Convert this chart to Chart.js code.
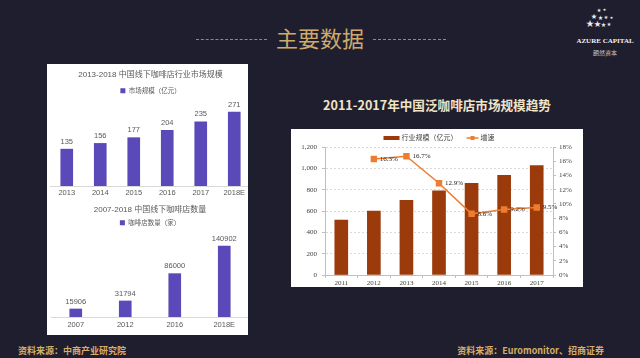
<!DOCTYPE html>
<html><head><meta charset="utf-8">
<script src="https://cdn.jsdelivr.net/npm/chart.js@4/dist/chart.umd.min.js"></script>
<style>
html,body{margin:0;padding:0;}
body{width:640px;height:358px;background:#1f1e2f;position:relative;overflow:hidden;font-family:'Noto Sans CJK SC',sans-serif;}
.abs{position:absolute;}
#hdr{left:0;width:640px;top:22px;text-align:center;font-size:22px;color:#cdaa6c;line-height:30px;}
.dots{position:absolute;top:39px;height:0;border-top:1px dashed #8a8894;}
.star{position:absolute;color:#e9e9ee;line-height:1;}
#logo1{left:570px;width:70px;top:37px;text-align:center;font-family:'Liberation Serif',serif;font-size:7px;font-weight:bold;color:#f2f2f2;}
#logo2{left:570px;width:70px;top:48px;text-align:center;font-size:6px;color:#c9c9d0;}
#leftPanel{left:47px;top:64px;width:201px;height:271px;background:#fff;overflow:hidden;}
#rightPanel{left:291px;top:129px;width:292px;height:158px;background:#fff;}
#rtitle{left:291px;width:292px;top:95px;text-align:center;font-size:12.6px;font-weight:bold;color:#f1e4c6;line-height:20px;}
.foot{position:absolute;top:344px;font-size:9px;font-weight:bold;color:#d6ae68;line-height:13px;}
canvas{position:absolute;}
</style></head>
<body>
<div class="dots" style="left:196px;width:71px;"></div>
<div class="dots" style="left:373px;width:73px;"></div>
<div id="hdr" class="abs">主要数据</div>

<span class="star" style="left:586px;top:19px;font-size:8px;">★</span>
<span class="star" style="left:594px;top:20px;font-size:7px;">★</span>
<span class="star" style="left:601px;top:21px;font-size:5px;">★</span>
<span class="star" style="left:607px;top:22px;font-size:4px;">★</span>
<span class="star" style="left:591px;top:13px;font-size:6px;">★</span>
<span class="star" style="left:598px;top:14px;font-size:5px;">★</span>
<span class="star" style="left:604px;top:15px;font-size:4px;">★</span>
<span class="star" style="left:597px;top:8px;font-size:4px;">★</span>
<span class="star" style="left:603px;top:9px;font-size:3px;">★</span>
<span class="star" style="left:610px;top:17px;font-size:3px;">★</span>
<div id="logo1" class="abs">AZURE CAPITAL</div>
<div id="logo2" class="abs">朗然资本</div>

<div id="leftPanel" class="abs">
  <canvas id="c1" width="210" height="136" style="left:0;top:0;"></canvas>
  <canvas id="c2" width="210" height="135" style="left:0;top:136px;"></canvas>
</div>

<div id="rtitle" class="abs">2011-2017年中国泛咖啡店市场规模趋势</div>
<div id="rightPanel" class="abs">
  <canvas id="c3" width="292" height="158" style="left:0;top:0;"></canvas>
</div>

<div class="foot" style="left:18px;">资料来源：中商产业研究院</div>
<div class="foot" style="right:36px;">资料来源：Euromonitor、招商证券</div>

<script>
// ---- data ----
const sizeYears = ['2013','2014','2015','2016','2017','2018E'];
const sizeValues = [135,156,177,204,235,271];
const storeYears = ['2007','2012','2016','2018E'];
const storeValues = [15906,31794,86000,140902];
const trendYears = ['2011','2012','2013','2014','2015','2016','2017'];
const trendSize = [515,600,700,790,860,935,1025];
const trendGrowth = [null,16.3,16.7,12.9,8.6,9.2,9.5];

Chart.defaults.animation = false;
Chart.defaults.responsive = false;
Chart.defaults.devicePixelRatio = 1;

const FS = "'Liberation Sans','Noto Sans CJK SC',sans-serif";
const SERIF = "'Liberation Serif','Noto Sans CJK SC',serif";

function labelPlugin(id, specs){
  return {id, afterDatasetsDraw(chart){
    const ctx = chart.ctx;
    specs.forEach(s=>{
      const meta = chart.getDatasetMeta(s.index);
      const data = chart.data.datasets[s.index].data;
      meta.data.forEach((el,i)=>{
        const v = data[i]; if(v==null) return;
        ctx.save(); ctx.font = s.font; ctx.fillStyle = s.color;
        ctx.textAlign = s.align; ctx.textBaseline = 'middle';
        ctx.fillText(s.format(v), el.x + s.dx, el.y + s.dy);
        ctx.restore();
      });
    });
  }};
}

function leftChart(id, labels, values, title, legend, yMax, padL, padR, titlePad, legendPad, xH, tickPad){
  return new Chart(document.getElementById(id), {
    type:'bar',
    data:{labels, datasets:[{label:legend, data:values, backgroundColor:'#5a49b8', barThickness:12}]},
    options:{
      layout:{padding:{left:padL, right:padR, top:0, bottom:0}},
      plugins:{
        title:{display:true, text:title, color:'#595959', font:{size:8, family:FS, weight:'normal'}, padding:{top:titlePad, bottom:2}},
        legend:{display:true, labels:{boxWidth:5, boxHeight:5, color:'#595959', font:{size:6.5, family:FS}, padding:legendPad}},
        tooltip:{enabled:false}
      },
      scales:{
        x:{grid:{display:false, drawTicks:false}, border:{display:true, color:'#d9d9d9'},
           ticks:{color:'#595959', font:{size:7.5, family:FS}, padding:tickPad},
           afterFit(s){ s.height = xH; }},
        y:{display:false, min:0, max:yMax}
      }
    },
    plugins:[labelPlugin(id+'lbl',[{index:0, font:'7.5px '+FS, color:'#595959', align:'center', dx:0, dy:-7.5, format:v=>String(v)}])]
  });
}

leftChart('c1', sizeYears, sizeValues, '2013-2018 中国线下咖啡店行业市场规模', '市场规模（亿元）', 300, 3, 6, 6, 6, 14, 2.5);
leftChart('c2', storeYears, storeValues, '2007-2018 中国线下咖啡店数量', '咖啡店数量（家）', 160500, 4, 8, 5, 3, 18, 3.5);

const trendLegend = {id:'trendLegend', afterDraw(chart){
  const ctx = chart.ctx; const ds = chart.data.datasets;
  ctx.save();
  ctx.font = '7px '+SERIF; ctx.textBaseline = 'middle';
  const w0 = ctx.measureText(ds[0].label).width, w1 = ctx.measureText(ds[1].label).width;
  const mk0 = 16, mk1 = 12, gap = 2, sep = 9;
  const total = mk0+gap+w0+sep+mk1+gap+w1;
  let x = (chart.chartArea.left+chart.chartArea.right)/2 - total/2;
  const y = 9;
  ctx.fillStyle = ds[0].backgroundColor; ctx.fillRect(x, y-2, mk0, 4);
  x += mk0+gap; ctx.fillStyle = '#404040'; ctx.fillText(ds[0].label, x, y);
  x += w0+sep;
  ctx.strokeStyle = ds[1].borderColor; ctx.lineWidth = 1.5;
  ctx.beginPath(); ctx.moveTo(x, y); ctx.lineTo(x+mk1, y); ctx.stroke();
  ctx.fillStyle = ds[1].borderColor; ctx.fillRect(x+mk1/2-2, y-2, 4, 4);
  x += mk1+gap; ctx.fillStyle = '#404040'; ctx.fillText(ds[1].label, x, y);
  ctx.restore();
}};

new Chart(document.getElementById('c3'), {
  data:{labels:trendYears, datasets:[
    {type:'bar', label:'行业规模（亿元）', data:trendSize, backgroundColor:'#9b3a0b', barThickness:13, yAxisID:'y', order:2},
    {type:'line', label:'增速', data:trendGrowth, borderColor:'#ed7d31', backgroundColor:'#ed7d31', borderWidth:1.5,
     pointStyle:'rect', pointRadius:3.5, pointBackgroundColor:'#ed7d31', pointBorderColor:'#ed7d31', yAxisID:'y1', order:1}
  ]},
  options:{
    layout:{padding:{top:18, left:0, right:0, bottom:0}},
    plugins:{legend:{display:false}, title:{display:false}, tooltip:{enabled:false}},
    scales:{
      x:{grid:{display:true, drawOnChartArea:false, tickLength:3, color:'#bfbfbf'}, border:{display:true, color:'#bfbfbf'},
         ticks:{color:'#404040', font:{size:7, family:SERIF}, padding:1},
         afterFit(s){ s.height = 12; }},
      y:{position:'left', min:0, max:1200, ticks:{stepSize:200, color:'#404040', font:{size:7, family:SERIF}, padding:5,
           callback:v=>v.toLocaleString('en-US')},
         grid:{color:'#d9d9d9', tickColor:'#bfbfbf', tickLength:3}, border:{display:true, color:'#bfbfbf', dash:[2,2]},
         afterFit(s){ s.width = 34; }},
      y1:{position:'right', min:0, max:18, ticks:{stepSize:2, color:'#404040', font:{size:7, family:SERIF}, padding:3,
           callback:v=>v+'%'},
         grid:{drawOnChartArea:false, tickColor:'#bfbfbf', tickLength:3}, border:{display:true, color:'#bfbfbf'},
         afterFit(s){ s.width = 30; }}
    }
  },
  plugins:[trendLegend, labelPlugin('growthLbl',[{index:1, font:'7px '+SERIF, color:'#262626', align:'left', dx:6, dy:0, format:v=>v.toFixed(1)+'%'}])]
});
</script>
</body></html>
